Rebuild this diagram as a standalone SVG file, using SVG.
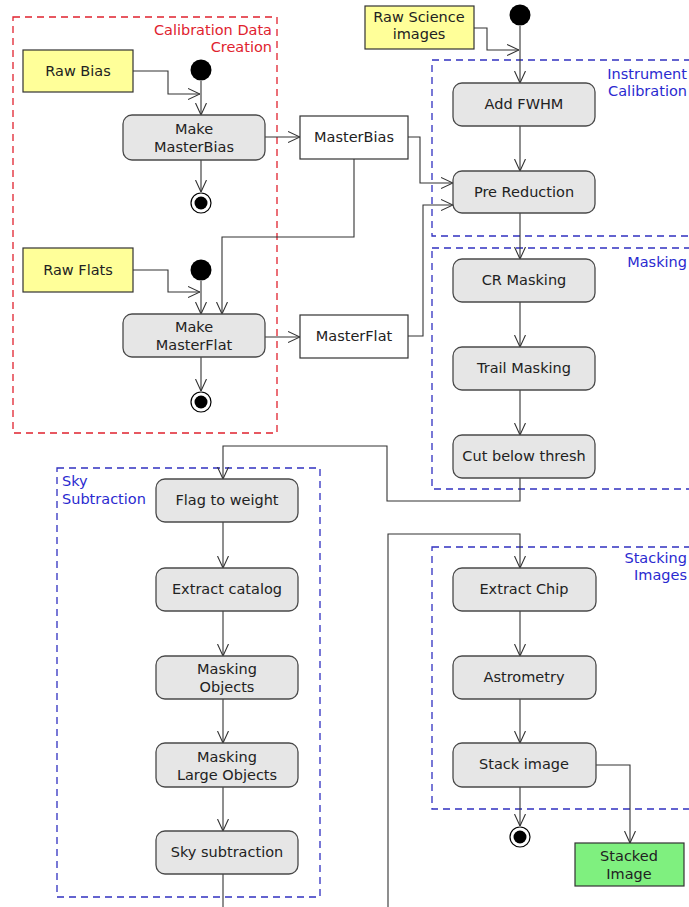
<svg xmlns="http://www.w3.org/2000/svg" width="689" height="907" viewBox="0 0 689 907">
<style>
text{font-family:"DejaVu Sans","Liberation Sans",sans-serif;font-size:14.5px;fill:#222}
.c{text-anchor:middle}
.act{fill:#e6e6e6;stroke:#4a4a4a;stroke-width:1.3}
.obj{fill:#ffffff;stroke:#333;stroke-width:1.2}
.yel{fill:#ffff99;stroke:#333;stroke-width:1.2}
.grn{fill:#7ff07f;stroke:#333;stroke-width:1.2}
.red{fill:none;stroke:#e0222e;stroke-width:1.3;stroke-dasharray:7 5}
.blu{fill:none;stroke:#3030c0;stroke-width:1.3;stroke-dasharray:7 5}
.rt{fill:#e0222e;text-anchor:end}
.bt{fill:#2a2ad0}
.bte{fill:#2a2ad0;text-anchor:end}
.ln{fill:none;stroke:#333;stroke-width:1.1}
.ini{fill:#000}
.fo{fill:#fff;stroke:#000;stroke-width:1.2}
</style>
<defs>
<marker id="a" viewBox="0 0 12 12" refX="12" refY="6" markerWidth="12" markerHeight="12" markerUnits="userSpaceOnUse" orient="auto">
<path d="M0,0.5 L12,6 L0,11.5" fill="none" stroke="#333" stroke-width="1.1"/>
</marker>
</defs>

<g id="partitions">
<rect class="red" x="13" y="17" width="264" height="416"/>
<text class="rt" x="272" y="35">Calibration Data</text>
<text class="rt" x="272" y="52">Creation</text>
<rect class="blu" x="432" y="60" width="262" height="176"/>
<text class="bte" x="687" y="79">Instrument</text>
<text class="bte" x="687" y="96">Calibration</text>
<rect class="blu" x="432" y="248" width="262" height="241"/>
<text class="bte" x="687" y="267">Masking</text>
<rect class="blu" x="57" y="468" width="263" height="429"/>
<text class="bt" x="62" y="486">Sky</text>
<text class="bt" x="62" y="504">Subtraction</text>
<rect class="blu" x="432" y="547" width="262" height="262"/>
<text class="bte" x="687" y="563">Stacking</text>
<text class="bte" x="687" y="580">Images</text>
</g>

<g id="connectors">
<path class="ln" d="M133,71 H168 V94 H200" marker-end="url(#a)"/>
<path class="ln" d="M201,81 V115" marker-end="url(#a)"/>
<path class="ln" d="M201,160 V192" marker-end="url(#a)"/>
<path class="ln" d="M265,137 H300" marker-end="url(#a)"/>
<path class="ln" d="M408,137 H420 V183 H453" marker-end="url(#a)"/>
<path class="ln" d="M354,159 V237 H222 V314" marker-end="url(#a)"/>
<path class="ln" d="M133,270 H168 V292 H200" marker-end="url(#a)"/>
<path class="ln" d="M201,281 V314" marker-end="url(#a)"/>
<path class="ln" d="M201,357 V391" marker-end="url(#a)"/>
<path class="ln" d="M265,337 H300" marker-end="url(#a)"/>
<path class="ln" d="M408,336 H423 V205 H453" marker-end="url(#a)"/>
<path class="ln" d="M474,28 H487 V50 H519" marker-end="url(#a)"/>
<path class="ln" d="M520,26 V83" marker-end="url(#a)"/>
<path class="ln" d="M520,126 V171" marker-end="url(#a)"/>
<path class="ln" d="M520,213 V259" marker-end="url(#a)"/>
<path class="ln" d="M520,302 V347" marker-end="url(#a)"/>
<path class="ln" d="M520,390 V435" marker-end="url(#a)"/>
<path class="ln" d="M520,478 V501 H387 V446 H223 V479" marker-end="url(#a)"/>
<path class="ln" d="M223,522 V568" marker-end="url(#a)"/>
<path class="ln" d="M223,611 V656" marker-end="url(#a)"/>
<path class="ln" d="M223,699 V743" marker-end="url(#a)"/>
<path class="ln" d="M223,787 V831" marker-end="url(#a)"/>
<path class="ln" d="M223,874 V907"/>
<path class="ln" d="M388,907 V534 H520 V568" marker-end="url(#a)"/>
<path class="ln" d="M520,611 V656" marker-end="url(#a)"/>
<path class="ln" d="M520,699 V743" marker-end="url(#a)"/>
<path class="ln" d="M520,787 V826" marker-end="url(#a)"/>
<path class="ln" d="M596,765 H630 V843" marker-end="url(#a)"/>
</g>

<g id="raw-bias"><rect class="yel" x="23" y="50" width="110" height="42"/><text class="c" x="78" y="76">Raw Bias</text></g>
<g id="init-bias"><circle class="ini" cx="201" cy="70" r="10.5"/></g>
<g id="make-masterbias"><rect class="act" x="123" y="115" width="142" height="45" rx="9"/><text class="c" x="194" y="134">Make</text><text class="c" x="194" y="152">MasterBias</text></g>
<g id="final-bias"><circle class="fo" cx="201" cy="203" r="10"/><circle class="ini" cx="201" cy="203" r="6.5"/></g>
<g id="masterbias"><rect class="obj" x="300" y="116" width="108" height="43"/><text class="c" x="354" y="142">MasterBias</text></g>

<g id="raw-flats"><rect class="yel" x="23" y="248" width="110" height="44"/><text class="c" x="78" y="275">Raw Flats</text></g>
<g id="init-flats"><circle class="ini" cx="201" cy="270" r="10.5"/></g>
<g id="make-masterflat"><rect class="act" x="123" y="314" width="142" height="43" rx="9"/><text class="c" x="194" y="332">Make</text><text class="c" x="194" y="350">MasterFlat</text></g>
<g id="final-flats"><circle class="fo" cx="201" cy="402" r="10"/><circle class="ini" cx="201" cy="402" r="6.5"/></g>
<g id="masterflat"><rect class="obj" x="300" y="315" width="108" height="43"/><text class="c" x="354" y="341">MasterFlat</text></g>

<g id="raw-science"><rect class="yel" x="365" y="6" width="109" height="43"/><text class="c" x="419" y="22">Raw Science</text><text class="c" x="419" y="39">images</text></g>
<g id="init-science"><circle class="ini" cx="520" cy="15" r="10.5"/></g>
<g id="add-fwhm"><rect class="act" x="453" y="83" width="142" height="43" rx="9"/><text class="c" x="524" y="109">Add FWHM</text></g>
<g id="pre-reduction"><rect class="act" x="453" y="171" width="142" height="42" rx="9"/><text class="c" x="524" y="197">Pre Reduction</text></g>
<g id="cr-masking"><rect class="act" x="453" y="259" width="142" height="43" rx="9"/><text class="c" x="524" y="285">CR Masking</text></g>
<g id="trail-masking"><rect class="act" x="453" y="347" width="142" height="43" rx="9"/><text class="c" x="524" y="373">Trail Masking</text></g>
<g id="cut-below-thresh"><rect class="act" x="453" y="435" width="142" height="43" rx="9"/><text class="c" x="524" y="461">Cut below thresh</text></g>

<g id="flag-to-weight"><rect class="act" x="156" y="479" width="142" height="43" rx="9"/><text class="c" x="227" y="505">Flag to weight</text></g>
<g id="extract-catalog"><rect class="act" x="156" y="568" width="142" height="43" rx="9"/><text class="c" x="227" y="594">Extract catalog</text></g>
<g id="masking-objects"><rect class="act" x="156" y="656" width="142" height="43" rx="9"/><text class="c" x="227" y="674">Masking</text><text class="c" x="227" y="692">Objects</text></g>
<g id="masking-large-objects"><rect class="act" x="156" y="743" width="142" height="44" rx="9"/><text class="c" x="227" y="762">Masking</text><text class="c" x="227" y="780">Large Objects</text></g>
<g id="sky-subtraction"><rect class="act" x="156" y="831" width="142" height="43" rx="9"/><text class="c" x="227" y="857">Sky subtraction</text></g>

<g id="extract-chip"><rect class="act" x="453" y="568" width="143" height="43" rx="9"/><text class="c" x="524" y="594">Extract Chip</text></g>
<g id="astrometry"><rect class="act" x="453" y="656" width="143" height="43" rx="9"/><text class="c" x="524" y="682">Astrometry</text></g>
<g id="stack-image"><rect class="act" x="453" y="743" width="143" height="44" rx="9"/><text class="c" x="524" y="769">Stack image</text></g>
<g id="final-stack"><circle class="fo" cx="520" cy="837" r="10"/><circle class="ini" cx="520" cy="837" r="6.5"/></g>
<g id="stacked-image"><rect class="grn" x="575" y="843" width="109" height="43"/><text class="c" x="629" y="861">Stacked</text><text class="c" x="629" y="879">Image</text></g>
</svg>
